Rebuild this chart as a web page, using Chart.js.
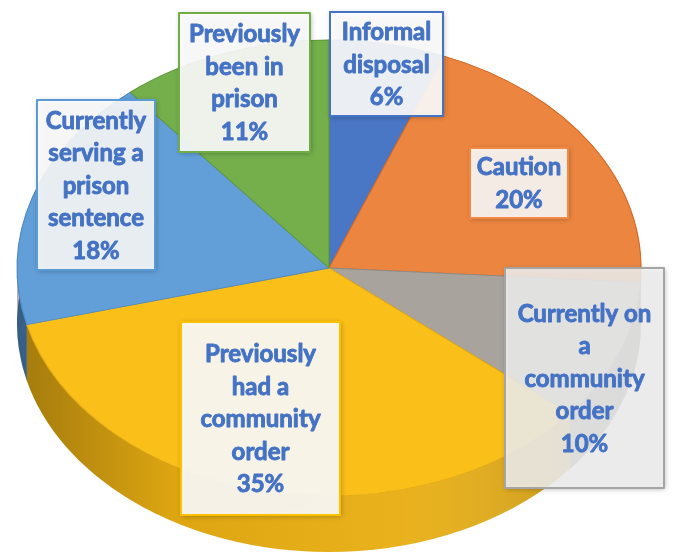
<!DOCTYPE html>
<html>
<head>
<meta charset="utf-8">
<script src="https://cdn.jsdelivr.net/npm/chart.js@4.4.1/dist/chart.umd.min.js"></script>
<style>
  html, body { margin: 0; padding: 0; background: #fff; }
  #wrap { width: 673px; height: 560px; position: relative; }
</style>
</head>
<body>
<div id="wrap"><canvas id="pieChart"></canvas></div>
<script>
const categories = ['Informal disposal', 'Caution', 'Currently on a community order',
  'Previously had a community order', 'Currently serving a prison sentence', 'Previously been in prison'];
const shares = [6, 20, 10, 35, 18, 11];
const labelLines = [
  ['Informal', 'disposal'],
  ['Caution'],
  ['Currently on', 'a', 'community', 'order'],
  ['Previously', 'had a', 'community', 'order'],
  ['Currently', 'serving a', 'prison', 'sentence'],
  ['Previously', 'been in', 'prison']
];

// look of the slices
const topColors = ['#4A76C6', '#EC8540', '#A8A39C', '#FBBF1A', '#629FD8', '#74AF4B'];
const edgeColors = ['#3F67B0', '#D06B28', '#8E8A84', '#E2A90C', '#4F8AC6', '#5F9A3A'];
const wallColors = ['#3A5FA3', '#C9672B', '#8E8A84', '#E8AE12', '#4D86BE', '#5C9139'];

// label boxes (x, y, w, h) in page pixels, and their borders
const boxes = [
  [330, 12, 113, 104],
  [470, 148, 98, 70],
  [505, 268, 159, 220],
  [181, 322, 159, 193],
  [37, 100, 118, 170],
  [179, 13, 131, 139]
];
const boxBorders = ['#4472C4', '#F08A45', '#A5A5A5', '#FFC000', '#5B9BD5', '#70AD47'];
const boxFills = ['rgba(255,255,255,0.9)', 'rgba(255,255,255,0.88)', 'rgba(245,245,245,0.85)',
  'rgba(255,255,255,0.9)', 'rgba(255,255,255,0.88)', 'rgba(255,255,255,0.9)'];

// ellipse of the top face and depth of the side wall
const CX = 329, CY = 268, RX = 312, RY = 228, DEPTH = 56;

const pie3d = {
  id: 'pie3d',
  beforeDatasetsDraw(chart) {
    const ctx = chart.ctx;
    const arcs = chart.getDatasetMeta(0).data;
    const r = arcs[0].outerRadius, x0 = arcs[0].x, y0 = arcs[0].y;
    ctx.save();
    ctx.translate(CX, CY);
    ctx.scale(RX / r, RY / r);
    ctx.translate(-x0, -y0);
    const d = DEPTH * r / RY;
    arcs.forEach((arc, i) => {
      ctx.beginPath();
      ctx.arc(arc.x, arc.y + d, arc.outerRadius, arc.startAngle, arc.endAngle);
      ctx.arc(arc.x, arc.y, arc.outerRadius, arc.endAngle, arc.startAngle, true);
      ctx.closePath();
      ctx.fillStyle = wallColors[i];
      ctx.fill();
    });
    // shade the wall darker towards the sides
    const g = ctx.createLinearGradient(x0 - r, 0, x0 + r, 0);
    g.addColorStop(0, 'rgba(0,0,0,0.30)');
    g.addColorStop(0.25, 'rgba(0,0,0,0.05)');
    g.addColorStop(0.6, 'rgba(255,255,255,0.04)');
    g.addColorStop(1, 'rgba(0,0,0,0.25)');
    ctx.beginPath();
    ctx.arc(x0, y0 + d, r, 0, Math.PI);
    ctx.arc(x0, y0, r, Math.PI, 0, true);
    ctx.closePath();
    ctx.fillStyle = g;
    ctx.fill();
  },
  afterDatasetsDraw(chart) {
    const ctx = chart.ctx;
    ctx.restore();

    ctx.save();
    ctx.font = 'bold 24px Lato';
    ctx.textAlign = 'center';
    ctx.textBaseline = 'middle';
    ctx.lineJoin = 'round';
    const lh = 32.5;
    boxes.forEach(([x, y, w, h], i) => {
      ctx.save();
      ctx.shadowColor = 'rgba(0,0,0,0.35)';
      ctx.shadowBlur = 5;
      ctx.shadowOffsetX = 1;
      ctx.shadowOffsetY = 1;
      ctx.fillStyle = boxFills[i];
      ctx.fillRect(x, y, w, h);
      ctx.restore();
      ctx.lineWidth = 2;
      ctx.strokeStyle = boxBorders[i];
      ctx.strokeRect(x, y, w, h);

      const lines = labelLines[i].concat(shares[i] + '%');
      const top = y + h / 2 - (lines.length - 1) * lh / 2;
      ctx.fillStyle = '#4472C4';
      ctx.strokeStyle = '#4472C4';
      ctx.lineWidth = 0.9;
      lines.forEach((t, k) => {
        ctx.fillText(t, x + w / 2, top + k * lh + 1);
        ctx.strokeText(t, x + w / 2, top + k * lh + 1);
      });
    });
    ctx.restore();
  }
};

new Chart(document.getElementById('pieChart'), {
  type: 'pie',
  data: {
    labels: categories,
    datasets: [{
      data: shares,
      backgroundColor: topColors,
      borderColor: edgeColors,
      borderWidth: 1,
      clip: false
    }]
  },
  options: {
    responsive: true,
    maintainAspectRatio: false,
    animation: false,
    events: [],
    layout: { padding: 0 },
    plugins: {
      legend: { display: false },
      tooltip: { enabled: false }
    }
  },
  plugins: [pie3d]
});
</script>
</body>
</html>
